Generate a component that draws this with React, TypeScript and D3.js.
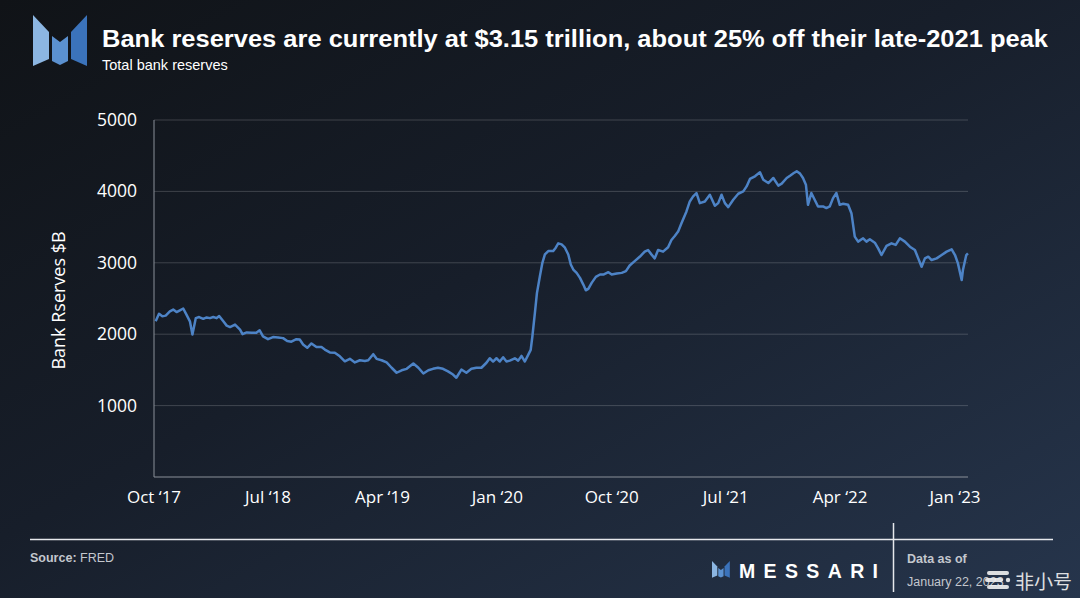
import React from "react";
import * as d3 from "d3";

const dates: string[] = ["2017-10-05","2017-10-13","2017-10-21","2017-10-29","2017-11-08","2017-11-16","2017-11-24","2017-12-02","2017-12-10","2017-12-18","2017-12-26","2018-01-01","2018-01-09","2018-01-17","2018-01-27","2018-02-04","2018-02-12","2018-02-20","2018-02-28","2018-03-06","2018-03-16","2018-03-24","2018-04-01","2018-04-13","2018-04-25","2018-05-01","2018-05-11","2018-05-23","2018-06-03","2018-06-11","2018-06-19","2018-07-01","2018-07-13","2018-07-25","2018-08-06","2018-08-16","2018-08-26","2018-09-07","2018-09-15","2018-09-23","2018-10-03","2018-10-13","2018-10-25","2018-11-06","2018-11-14","2018-11-26","2018-12-08","2018-12-20","2019-01-01","2019-01-13","2019-01-25","2019-02-06","2019-02-18","2019-02-26","2019-03-10","2019-03-18","2019-03-30","2019-04-11","2019-04-23","2019-05-05","2019-05-17","2019-05-29","2019-06-14","2019-06-26","2019-07-08","2019-07-20","2019-07-31","2019-08-12","2019-08-24","2019-09-05","2019-09-17","2019-09-25","2019-10-07","2019-10-19","2019-10-31","2019-11-12","2019-11-24","2019-12-06","2019-12-14","2019-12-22","2019-12-30","2020-01-07","2020-01-15","2020-01-23","2020-01-31","2020-02-12","2020-02-20","2020-02-28","2020-03-07","2020-03-15","2020-03-21","2020-03-25","2020-03-31","2020-04-05","2020-04-12","2020-04-18","2020-04-24","2020-05-02","2020-05-14","2020-05-20","2020-05-26","2020-06-03","2020-06-11","2020-06-19","2020-06-25","2020-07-01","2020-07-09","2020-07-17","2020-07-25","2020-07-31","2020-08-06","2020-08-14","2020-08-24","2020-09-03","2020-09-11","2020-09-23","2020-10-01","2020-10-13","2020-10-25","2020-11-04","2020-11-13","2020-11-25","2020-12-07","2020-12-19","2020-12-27","2021-01-04","2021-01-12","2021-01-20","2021-02-01","2021-02-13","2021-02-21","2021-03-01","2021-03-09","2021-03-17","2021-03-29","2021-04-06","2021-04-14","2021-04-22","2021-04-30","2021-05-12","2021-05-24","2021-06-05","2021-06-13","2021-06-21","2021-06-29","2021-07-07","2021-07-19","2021-07-31","2021-08-12","2021-08-20","2021-08-28","2021-09-09","2021-09-21","2021-09-29","2021-10-11","2021-10-23","2021-11-04","2021-11-12","2021-11-24","2021-12-02","2021-12-11","2021-12-18","2021-12-26","2022-01-02","2022-01-09","2022-01-14","2022-01-22","2022-01-30","2022-02-07","2022-02-19","2022-02-27","2022-03-07","2022-03-15","2022-03-23","2022-03-31","2022-04-08","2022-04-20","2022-04-28","2022-05-06","2022-05-14","2022-05-26","2022-06-03","2022-06-11","2022-06-23","2022-07-01","2022-07-09","2022-07-21","2022-08-02","2022-08-12","2022-08-22","2022-09-03","2022-09-15","2022-09-27","2022-10-05","2022-10-13","2022-10-21","2022-10-29","2022-11-06","2022-11-18","2022-11-30","2022-12-12","2022-12-24","2023-01-01","2023-01-08","2023-01-17","2023-01-20","2023-01-28","2023-02-01"];

const reserves: number[] = [
  2180,2285,2250,2260,2320,2345,2310,2335,2360,2270,2180,1995,2225,2240,2215,2235,2225,2240,2225,2255,2180,2120,2100,2135,2065,2000,2025,2020,2020,2055,1970,1930,1960,1955,1945,1905,1895,1930,
  1925,1855,1810,1870,1820,1820,1785,1745,1740,1690,1620,1655,1605,1635,1625,1635,1720,1655,1635,1605,1530,1460,1495,1515,1590,1530,1450,1495,1515,1530,1515,1480,1435,1390,1505,1460,1515,1530,1530,1600,
  1663,1617,1663,1617,1677,1617,1630,1663,1630,1696,1617,1710,1781,1968,2296,2578,2812,3000,3117,3164,3164,3211,3272,3258,3211,3117,2977,2906,2859,2789,2695,2615,2634,2719,2803,2836,2836,2869,2836,2850,2859,2883,2962,3023,3084,
  3156,3179,3118,3062,3179,3156,3217,3320,3376,3437,3554,3719,3859,3930,3977,3836,3859,3953,3798,3836,3953,3836,3780,3883,3967,4000,4070,4174,4211,4267,4164,4117,4188,4080,4108,4188,4220,4258,4281,
  4249,4188,4094,3812,3977,3883,3789,3789,3766,3789,3906,3977,3812,3827,3812,3695,3367,3297,3343,3297,3329,3282,3202,3109,3236,3273,3250,3343,3297,3226,3179,3062,2945,3062,3086,3039,3062,3109,3156,3189,3109,2992,2758,2899,3109,3132
];

const yTicks: number[] = [1000, 2000, 3000, 4000, 5000];
const xTickDates: string[] = ["2017-10-01","2018-07-01","2019-04-01","2020-01-01","2020-10-01","2021-07-01","2022-04-01","2023-01-01"];
const xTickLabels: string[] = ["Oct \u201817","Jul \u201818","Apr \u201819","Jan \u201820","Oct \u201820","Jul \u201821","Apr \u201822","Jan \u201823"];

const title = "Bank reserves are currently at $3.15 trillion, about 25% off their late-2021 peak";
const subtitle = "Total bank reserves";
const yAxisTitle = "Bank Rserves $B";

const W = 1080, H = 598;
const PL = 154, PR = 968, PT = 120, PB = 477;

function Logo({ x, y, s }: { x: number; y: number; s: number }) {
  return (
    <g transform={`translate(${x},${y}) scale(${s})`}>
      <polygon points="0,0 16,17 16,44 0,51" fill="#8cb6e2" />
      <polygon points="19,21 27,27 35,21 35,46 27,50 19,46" fill="#5b91d0" />
      <polygon points="38,17 54,0 54,51 38,44" fill="#3b73bb" />
    </g>
  );
}

export default function App() {
  const parse = d3.timeParse("%Y-%m-%d");
  const n = Math.min(dates.length, reserves.length);
  const data = d3.range(n).map((i) => ({ date: parse(dates[i]) as Date, value: reserves[i] }));

  const x = d3.scaleTime()
    .domain([parse("2017-10-01") as Date, parse("2023-01-01") as Date])
    .range([PL, 955]);
  const y = d3.scaleLinear().domain([0, 5000]).range([PB, PT]);

  const line = d3.line<{ date: Date; value: number }>()
    .x((d) => x(d.date))
    .y((d) => y(d.value));

  const sans = "'Liberation Sans', Arial, Helvetica, sans-serif";
  const axisFont = "'Open Sans', 'Noto Sans', sans-serif";

  return (
    <svg width={W} height={H} viewBox={`0 0 ${W} ${H}`} style={{ position: "absolute", left: 0, top: 0, display: "block" }}>
      <defs>
        <linearGradient id="bg" x1="0" y1="0" x2="1" y2="1">
          <stop offset="0" stopColor="#101317" />
          <stop offset="0.45" stopColor="#171e2a" />
          <stop offset="1" stopColor="#26354c" />
        </linearGradient>
      </defs>
      <rect x={0} y={0} width={W} height={H} fill="url(#bg)" />

      <Logo x={33} y={15} s={1} />
      <text x={102} y={47} fill="#ffffff" fontFamily={sans} fontWeight="bold" fontSize={23}
        textLength={946} lengthAdjust="spacingAndGlyphs">{title}</text>
      <text x={102} y={70} fill="#ffffff" fontFamily={sans} fontSize={14.5}>{subtitle}</text>

      {yTicks.map((t) => (
        <line key={t} x1={PL} x2={PR} y1={y(t)} y2={y(t)} stroke="#ffffff" strokeOpacity={0.18} strokeWidth={1} />
      ))}
      <line x1={PL} x2={PL} y1={PT} y2={PB} stroke="#8a9099" strokeWidth={1} />
      <line x1={PL} x2={PR} y1={PB} y2={PB} stroke="#8a9099" strokeWidth={1} />

      {yTicks.map((t) => (
        <text key={t} x={137} y={y(t) + 6} textAnchor="end" fill="#ffffff" fontFamily={axisFont} fontSize={17.5}>{t}</text>
      ))}
      <text transform={`translate(65,${(PT + PB) / 2 + 2}) rotate(-90)`} textAnchor="middle" fill="#ffffff"
        fontFamily={axisFont} fontSize={18}>{yAxisTitle}</text>

      {xTickDates.map((d, i) => (
        <text key={d} x={x(parse(d) as Date)} y={503} textAnchor="middle" fill="#ffffff" fontFamily={axisFont} fontSize={17}>
          {xTickLabels[i]}
        </text>
      ))}

      <path d={line(data) || ""} fill="none" stroke="#4d83c6" strokeWidth={2.5} strokeLinejoin="round" />

      <line x1={30} x2={1053} y1={539.5} y2={539.5} stroke="#e6e8ec" strokeWidth={1.5} />
      <line x1={893.5} x2={893.5} y1={523} y2={592} stroke="#e6e8ec" strokeWidth={1.5} />
      <text x={30} y={562} fill="#c3c7ce" fontFamily={sans} fontSize={12.5}>
        <tspan fontWeight="bold">Source:</tspan> FRED
      </text>
      <Logo x={712} y={561} s={0.33} />
      <text x={739} y={578} fill="#ffffff" fontFamily={sans} fontWeight="bold" fontSize={19.5}
        textLength={139} lengthAdjust="spacing">MESSARI</text>
      <text x={907} y={563} fill="#c3c7ce" fontFamily={sans} fontWeight="bold" fontSize={12.5}>Data as of</text>
      <text x={907} y={586} fill="#c3c7ce" fontFamily={sans} fontSize={12.5}>January 22, 2023</text>

      <g fill="#f2f2f2" opacity={0.9}>
        <rect x={987} y={571} width={22} height={4} rx={2} />
        <rect x={985} y={578} width={18} height={4} rx={2} />
        <circle cx={1008} cy={580} r={2.2} />
        <rect x={987} y={585} width={22} height={4} rx={2} />
      </g>
      <text x={1015} y={589} fill="#f2f2f2" opacity={0.9} fontFamily="'Noto Sans CJK SC', sans-serif" fontSize={19}>非小号</text>
    </svg>
  );
}
